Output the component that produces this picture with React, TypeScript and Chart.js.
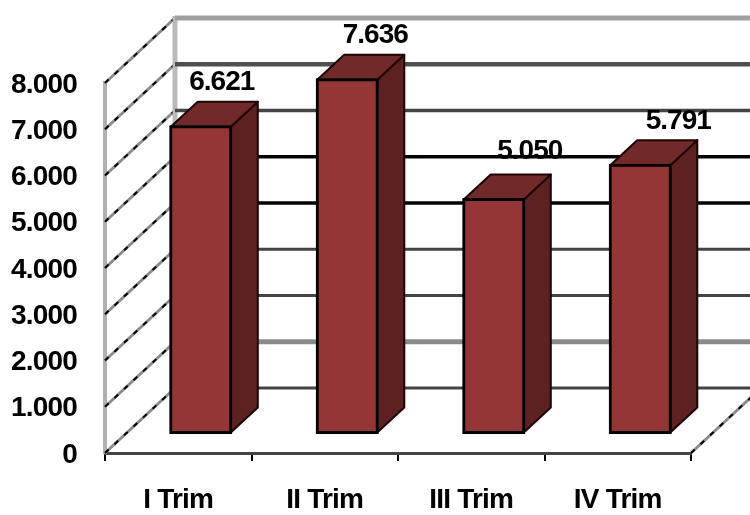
import React, { useEffect, useRef } from "react";
import { Chart, registerables } from "chart.js";

Chart.register(...registerables);

const categories = ["I Trim", "II Trim", "III Trim", "IV Trim"];
const seriesValues = [6621, 7636, 5050, 5791];
const axisMax = 8000;
const axisStep = 1000;

// Styling tables (not data)
const wallLineColors = ["#444444", "#8a8a8a", "#444444", "#444444", "#000000", "#000000", "#444444", "#4f4f4f", "#a0a0a0"];
const wallLineWidths = [3, 5, 3, 3, 3.5, 3.5, 3.5, 4.5, 5];
const labelShift = [[21, 46], [28, 47], [36, 50], [38, 46]];

const FONT = '"Liberation Sans", Arial, sans-serif';
const WALL_DX = 70;
const WALL_DY = -65;
const BAR_DX = 22.5;
const BAR_DY = -20;
const BAR_DEPTH_X = 27;
const BAR_DEPTH_Y = -25;
const FRONT = "#943635";
const TOP = "#712a29";
const SIDE = "#5c2120";
const EDGE = "#1c0505";

const fmt = (v: number) => {
  const s = String(Math.round(v));
  return s.length > 3 ? s.slice(0, -3) + "." + s.slice(-3) : s;
};

const box3d = {
  id: "box3d",
  beforeDraw(chart: any) {
    chart.ctx.letterSpacing = "-0.8px";
  },
  beforeDatasetsDraw(chart: any) {
    const { ctx, scales } = chart;
    const xs = scales.x;
    const ys = scales.y;
    const L = xs.left;
    const R = xs.right;
    const W = chart.width;
    ctx.save();
    // left wall diagonals
    ys.ticks.forEach((t: any) => {
      const y = ys.getPixelForValue(t.value);
      ctx.beginPath();
      ctx.moveTo(L, y);
      ctx.lineTo(L + WALL_DX, y + WALL_DY);
      ctx.strokeStyle = "#8c8c8c";
      ctx.lineWidth = 3;
      ctx.setLineDash([]);
      ctx.stroke();
      ctx.strokeStyle = "#000000";
      ctx.lineWidth = 2;
      ctx.setLineDash([5, 8]);
      ctx.stroke();
      ctx.setLineDash([]);
    });
    // back wall vertical
    ctx.beginPath();
    ctx.moveTo(L + WALL_DX, ys.getPixelForValue(axisMax) + WALL_DY - 2);
    ctx.lineTo(L + WALL_DX, ys.getPixelForValue(0) + WALL_DY);
    ctx.strokeStyle = "#bbbbbb";
    ctx.lineWidth = 5;
    ctx.stroke();
    // back wall horizontals
    ys.ticks.forEach((t: any, i: number) => {
      const y = ys.getPixelForValue(t.value) + WALL_DY;
      ctx.beginPath();
      ctx.moveTo(L + WALL_DX, y);
      ctx.lineTo(W, y);
      ctx.strokeStyle = wallLineColors[i];
      ctx.lineWidth = wallLineWidths[i];
      ctx.stroke();
    });
    // right floor diagonal
    const y0 = ys.getPixelForValue(0);
    ctx.beginPath();
    ctx.moveTo(R, y0);
    ctx.lineTo(R + WALL_DX, y0 + WALL_DY);
    ctx.strokeStyle = "#8c8c8c";
    ctx.lineWidth = 3;
    ctx.stroke();
    ctx.strokeStyle = "#000000";
    ctx.lineWidth = 2;
    ctx.setLineDash([5, 8]);
    ctx.stroke();
    ctx.restore();

    // bar side and top faces
    const bars = chart.getDatasetMeta(0).data;
    ctx.save();
    ctx.translate(BAR_DX, BAR_DY);
    bars.forEach((b: any) => {
      const l = b.x - b.width / 2;
      const r = b.x + b.width / 2;
      ctx.lineJoin = "round";
      ctx.strokeStyle = EDGE;
      ctx.lineWidth = 2;
      ctx.fillStyle = SIDE;
      ctx.beginPath();
      ctx.moveTo(r, b.y);
      ctx.lineTo(r + BAR_DEPTH_X, b.y + BAR_DEPTH_Y);
      ctx.lineTo(r + BAR_DEPTH_X, b.base + BAR_DEPTH_Y);
      ctx.lineTo(r, b.base);
      ctx.closePath();
      ctx.fill();
      ctx.stroke();
      ctx.fillStyle = TOP;
      ctx.beginPath();
      ctx.moveTo(l, b.y);
      ctx.lineTo(l + BAR_DEPTH_X, b.y + BAR_DEPTH_Y);
      ctx.lineTo(r + BAR_DEPTH_X, b.y + BAR_DEPTH_Y);
      ctx.lineTo(r, b.y);
      ctx.closePath();
      ctx.fill();
      ctx.stroke();
    });
    ctx.restore();
  },
  beforeDatasetDraw(chart: any) {
    chart.ctx.save();
    chart.ctx.translate(BAR_DX, BAR_DY);
  },
  afterDatasetDraw(chart: any) {
    chart.ctx.restore();
  },
  afterDatasetsDraw(chart: any) {
    const { ctx } = chart;
    const bars = chart.getDatasetMeta(0).data;
    ctx.save();
    ctx.font = `bold 28px ${FONT}`;
    ctx.letterSpacing = "-1px";
    ctx.fillStyle = "#000000";
    ctx.textAlign = "center";
    ctx.textBaseline = "middle";
    bars.forEach((b: any, i: number) => {
      ctx.fillText(
        fmt(seriesValues[i]),
        b.x + BAR_DX + labelShift[i][0],
        b.y + BAR_DY - labelShift[i][1] + 2
      );
    });
    ctx.restore();
  },
};

export default function App() {
  const ref = useRef<HTMLCanvasElement>(null);
  useEffect(() => {
    if (!ref.current) return;
    const chart = new Chart(ref.current, {
      type: "bar",
      data: {
        labels: categories,
        datasets: [
          {
            data: seriesValues,
            backgroundColor: FRONT,
            borderColor: "#000000",
            borderWidth: 3,
            borderSkipped: false,
            inflateAmount: 1.5,
            barPercentage: 1,
            categoryPercentage: 0.41,
            clip: false as any,
          },
        ],
      },
      plugins: [box3d],
      options: {
        animation: false,
        responsive: false,
        devicePixelRatio: 1,
        layout: { padding: { top: 83, right: 59, left: 0, bottom: 0 } },
        plugins: { legend: { display: false }, tooltip: { enabled: false } },
        scales: {
          x: {
            grid: { display: true, drawOnChartArea: false, offset: true, tickLength: 8, color: "#000000", lineWidth: 2 },
            border: { color: "#444444", width: 3 },
            ticks: {
              color: "#000000",
              font: { family: FONT, size: 28, weight: "bold" },
              maxRotation: 0,
              autoSkip: false,
              padding: 22,
            },
            afterFit(s: any) {
              s.height = 62;
            },
          },
          y: {
            min: 0,
            max: axisMax,
            grid: { display: true, drawOnChartArea: false, drawTicks: false },
            border: { color: "#b0b0b0", width: 4 },
            ticks: {
              stepSize: axisStep,
              color: "#000000",
              font: { family: FONT, size: 28, weight: "bold" },
              padding: 28,
              labelOffset: 2,
              callback: (v: any) => fmt(Number(v)),
            },
            afterFit(s: any) {
              s.width = 105;
            },
          },
        },
      },
    });
    return () => chart.destroy();
  }, []);
  return (
    <canvas
      ref={ref}
      width={750}
      height={515}
      style={{ position: "fixed", left: 0, top: 0, width: 750, height: 515, background: "#ffffff" }}
    />
  );
}
